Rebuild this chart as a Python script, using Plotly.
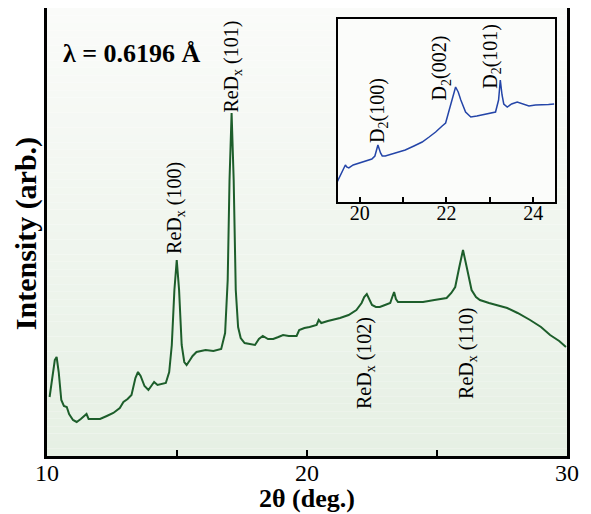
import plotly.graph_objects as go

# Main XRD pattern (2theta in deg, intensity arb.)
main_2theta = [10.10, 10.20, 10.30, 10.37, 10.45, 10.55, 10.65, 10.76, 10.85, 11.00, 11.14, 11.30, 11.45, 11.52,
               11.60, 11.80, 12.04, 12.30, 12.55, 12.80, 12.94, 13.10, 13.25, 13.40, 13.50, 13.60, 13.75, 13.90,
               14.05, 14.12, 14.25, 14.40, 14.57, 14.70, 14.80, 14.90, 14.99, 15.08, 15.18, 15.28, 15.37, 15.50,
               15.60, 15.75, 15.90, 16.10, 16.40, 16.70, 16.85, 16.95, 17.02, 17.10, 17.18, 17.26, 17.35, 17.45,
               17.60, 17.80, 18.00, 18.15, 18.30, 18.50, 18.70, 18.90, 19.08, 19.30, 19.60, 19.70, 19.90, 20.10,
               20.37, 20.45, 20.55, 20.80, 21.27, 21.60, 21.90, 22.10, 22.20, 22.30, 22.40, 22.50, 22.65, 22.80,
               23.00, 23.20, 23.28, 23.35, 23.42, 23.50, 23.80, 24.10, 24.46, 24.90, 25.37, 25.55, 25.70, 25.85,
               26.00, 26.15, 26.33, 26.50, 26.65, 27.00, 27.40, 27.70, 28.10, 28.58, 29.00, 29.35, 29.70, 29.96]
main_intensity = [59, 78, 96, 99, 84, 56, 50, 49, 42, 36, 34, 37, 40, 42,
                  37, 37, 37, 40, 43, 48, 54, 57, 61, 78, 84, 80, 70, 66,
                  71, 74, 71, 72, 73, 84, 111, 166, 196, 166, 111, 94, 91, 96,
                  100, 104, 105, 106, 105, 107, 123, 176, 276, 343, 276, 166, 129, 118,
                  113, 112, 111, 117, 120, 117, 117, 119, 121, 120, 120, 126, 128, 129,
                  131, 136, 133, 135, 138, 141, 146, 153, 159, 162, 156, 151, 149, 149,
                  151, 153, 159, 164, 157, 154, 154, 154, 154, 156, 158, 163, 169, 188,
                  206, 188, 166, 159, 156, 153, 150, 148, 143, 136, 129, 121, 115, 109]

# Inset (zoomed region)
inset_2theta = [19.48, 19.55, 19.60, 19.65, 19.67, 19.70, 19.75, 19.85, 19.98, 20.15, 20.28, 20.35, 20.42, 20.48,
                20.52, 20.59, 20.80, 21.05, 21.25, 21.44, 21.60, 21.75, 21.90, 21.98, 22.05, 22.13, 22.21, 22.27,
                22.33, 22.44, 22.56, 22.70, 22.83, 23.00, 23.13, 23.20, 23.24, 23.28, 23.32, 23.40, 23.50, 23.63,
                23.75, 23.90, 24.05, 24.20, 24.35, 24.48]
inset_intensity = [20, 26, 30, 34, 37, 35, 34, 37, 39, 41, 43, 46, 57, 49,
                   46, 46, 49, 52, 56, 60, 65, 70, 76, 79, 90, 102, 115, 110,
                   102, 90, 85, 86, 87, 89, 90, 102, 122, 107, 98, 95, 98, 100,
                   98, 96, 97, 97, 97.5, 98]

main_labels = ["ReD<sub>x</sub> (100)", "ReD<sub>x</sub> (101)", "ReD<sub>x</sub> (102)", "ReD<sub>x</sub> (110)"]
main_label_x = [14.92, 17.10, 22.23, 26.15]
main_label_y = [248, 389, 93, 103]

inset_labels = ["D<sub>2</sub>(100)", "D<sub>2</sub>(002)", "D<sub>2</sub>(101)"]
inset_label_x = [20.42, 21.86, 23.02]
inset_label_y = [92, 134, 146]

main_tickvals = [10, 15, 20, 25, 30]
main_ticktext = ["10", "", "20", "", "30"]
inset_tickvals = [20, 21, 22, 23, 24]
inset_ticktext = ["20", "", "22", "", "24"]

FONT = "Liberation Serif, DejaVu Serif, serif"

fig = go.Figure()
fig.add_trace(go.Scatter(x=main_2theta, y=main_intensity, mode="lines",
                         line=dict(color="#1d5e2b", width=2), xaxis="x", yaxis="y", showlegend=False))
fig.add_trace(go.Scatter(x=inset_2theta, y=inset_intensity, mode="lines",
                         line=dict(color="#2445a8", width=1.5), xaxis="x2", yaxis="y2", showlegend=False))

# gradient background (white at top to pale green at bottom)
shapes = []
n = 60
top = (250, 251, 249)
bot = (230, 240, 228)
for i in range(n):
    f = i / (n - 1)
    c = tuple(int(round(top[k] + (bot[k] - top[k]) * f)) for k in range(3))
    y1 = 1 - i / n
    y0 = 1 - (i + 1) / n
    shapes.append(dict(type="rect", xref="paper", yref="paper", x0=0, x1=1, y0=y0, y1=y1,
                       fillcolor="rgb(%d,%d,%d)" % c, line=dict(width=0), layer="below"))
ix0, ix1, iy0, iy1 = 0.5596, 0.9769, 0.567, 0.9754
shapes.append(dict(type="rect", xref="paper", yref="paper", x0=ix0, x1=ix1, y0=iy0, y1=iy1,
                   fillcolor="#fbfcfa", line=dict(width=0), layer="below"))

annotations = []
for t, x, y in zip(main_labels, main_label_x, main_label_y):
    annotations.append(dict(text=t, x=x, y=y, xref="x", yref="y", textangle=-90, showarrow=False,
                            xanchor="center", yanchor="middle", font=dict(family=FONT, size=20, color="black")))
for t, x, y in zip(inset_labels, inset_label_x, inset_label_y):
    annotations.append(dict(text=t, x=x, y=y, xref="x2", yref="y2", textangle=-90, showarrow=False,
                            xanchor="center", yanchor="middle", font=dict(family=FONT, size=20, color="black")))
annotations.append(dict(text="λ = 0.6196 Å", x=0.163, y=0.898, xref="paper", yref="paper",
                        showarrow=False, xanchor="center", yanchor="middle",
                        font=dict(family=FONT, size=26, color="black", weight="bold")))
annotations.append(dict(text="2θ (deg.)", x=0.5, y=-0.094, xref="paper", yref="paper",
                        showarrow=False, xanchor="center", yanchor="middle",
                        font=dict(family=FONT, size=26, color="black", weight="bold")))
annotations.append(dict(text="Intensity (arb.)", x=-0.04, y=0.4955, xref="paper", yref="paper",
                        showarrow=False, xanchor="center", yanchor="middle", textangle=-90,
                        font=dict(family=FONT, size=30, color="black", weight="bold")))

# page body has an 8px margin, so the figure is 8px smaller and shifted accordingly
fig.update_layout(
    width=583, height=506,
    margin=dict(l=39, r=24, t=0, b=58, autoexpand=False),
    paper_bgcolor="white",
    plot_bgcolor="rgba(0,0,0,0)",
    shapes=shapes,
    annotations=annotations,
    xaxis=dict(domain=[0, 1], range=[10, 30], tickvals=main_tickvals, ticktext=main_ticktext,
               ticks="inside", ticklen=6, tickwidth=2, tickcolor="black", ticklabelstandoff=-7,
               showline=True, linewidth=2.5, linecolor="black", mirror=True, showgrid=False, zeroline=False,
               tickfont=dict(family=FONT, size=24, color="black")),
    yaxis=dict(domain=[0, 1], range=[0, 448], showticklabels=False, ticks="",
               showline=True, linewidth=2.5, linecolor="black", mirror=True, showgrid=False, zeroline=False),
    xaxis2=dict(domain=[ix0, ix1], anchor="y2", range=[19.5, 24.5], tickvals=inset_tickvals,
                ticktext=inset_ticktext, ticks="inside", ticklen=5, tickwidth=1.5, tickcolor="black",
                ticklabelstandoff=-8,
                showline=True, linewidth=2, linecolor="black", mirror=True, showgrid=False, zeroline=False,
                tickfont=dict(family=FONT, size=20, color="black")),
    yaxis2=dict(domain=[iy0, iy1], anchor="x2", range=[0, 183], showticklabels=False, ticks="",
                showline=True, linewidth=2, linecolor="black", mirror=True, showgrid=False, zeroline=False),
)

fig.write_html("out.html")
